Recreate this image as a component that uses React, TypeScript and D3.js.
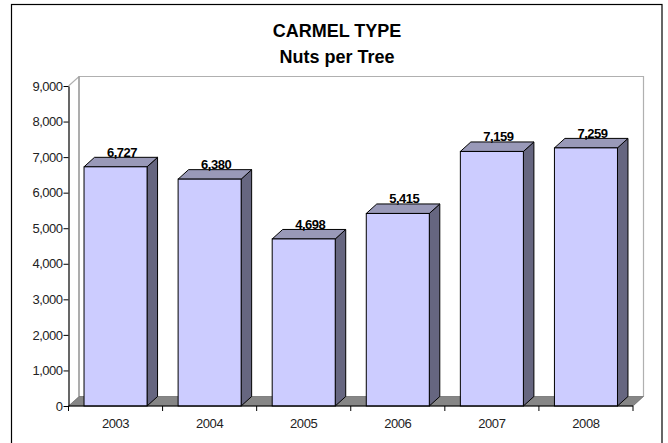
import { useEffect, useRef } from 'react';
import * as d3 from 'd3';

const years = ['2003', '2004', '2005', '2006', '2007', '2008'];
const nutsPerTree = [6727, 6380, 4698, 5415, 7159, 7259];
const yTicks = [0, 1000, 2000, 3000, 4000, 5000, 6000, 7000, 8000, 9000];
const titleLines = ['CARMEL TYPE', 'Nuts per Tree'];

const FONT = 'Liberation Sans, Arial, sans-serif';

export default function App() {
  const svgRef = useRef<SVGSVGElement>(null);

  useEffect(() => {
    const svg = d3.select(svgRef.current);
    if (!svg.node()) return;
    svg.selectAll('*').remove();

    const width = 668;
    const height = 443;
    const plot = { left: 68.5, right: 633, top: 86, bottom: 406 };
    const depthX = 10.5;
    const depthY = 9.5;

    const x = d3.scaleBand<string>().domain(years).range([plot.left, plot.right]).paddingInner(0.33).paddingOuter(0.165);
    const y = d3.scaleLinear().domain([0, 9000]).range([plot.bottom, plot.top]);

    // outer frame, runs off the bottom of the picture
    svg.append('rect')
      .attr('x', 11.5)
      .attr('y', 4.5)
      .attr('width', 650.5)
      .attr('height', height)
      .attr('fill', '#fff')
      .attr('stroke', '#000')
      .attr('stroke-width', 1.2);

    svg.append('g')
      .selectAll('text')
      .data(titleLines)
      .join('text')
      .attr('x', 337)
      .attr('y', (_, i) => 37 + i * 26)
      .attr('text-anchor', 'middle')
      .attr('font-family', FONT)
      .attr('font-size', 18)
      .attr('font-weight', 700)
      .attr('fill', '#000')
      .text((d) => d);

    // back wall
    svg.append('path')
      .attr('d', `M${plot.left},${plot.top}L${plot.left + depthX},${plot.top - depthY}H${plot.right + depthX}V${plot.bottom - depthY}`)
      .attr('fill', 'none')
      .attr('stroke', '#b0b0b0')
      .attr('stroke-width', 1.2);
    svg.append('line')
      .attr('x1', plot.left + depthX)
      .attr('x2', plot.left + depthX)
      .attr('y1', plot.top - depthY)
      .attr('y2', plot.bottom - depthY)
      .attr('stroke', '#999')
      .attr('stroke-width', 1.6);

    // floor
    svg.append('path')
      .attr('d', `M${plot.left},${plot.bottom}L${plot.left + depthX},${plot.bottom - depthY}H${plot.right + depthX}L${plot.right},${plot.bottom}Z`)
      .attr('fill', '#868686')
      .attr('stroke', '#555')
      .attr('stroke-width', 0.6);

    const bars = svg.append('g')
      .selectAll('g')
      .data(years.map((year, i) => ({ year, value: nutsPerTree[i] })))
      .join('g');

    // side face
    bars.append('path')
      .attr('d', (d) => {
        const r = x(d.year)! + x.bandwidth();
        return `M${r},${y(d.value)}l${depthX},${-depthY}V${plot.bottom - depthY}L${r},${plot.bottom}Z`;
      })
      .attr('fill', '#666680')
      .attr('stroke', '#000')
      .attr('stroke-width', 1);

    // top face
    bars.append('path')
      .attr('d', (d) => {
        const l = x(d.year)!;
        return `M${l},${y(d.value)}l${depthX},${-depthY}h${x.bandwidth()}l${-depthX},${depthY}Z`;
      })
      .attr('fill', '#9999b8')
      .attr('stroke', '#000')
      .attr('stroke-width', 1);

    // front face
    bars.append('rect')
      .attr('x', (d) => x(d.year)!)
      .attr('y', (d) => y(d.value))
      .attr('width', x.bandwidth())
      .attr('height', (d) => plot.bottom - y(d.value))
      .attr('fill', '#ccccff')
      .attr('stroke', '#000')
      .attr('stroke-width', 1);

    bars.append('text')
      .attr('x', (d) => x(d.year)! + x.bandwidth() / 2 + 6.5)
      .attr('y', (d) => y(d.value) - 10)
      .attr('text-anchor', 'middle')
      .attr('font-family', FONT)
      .attr('font-size', 13)
      .attr('font-weight', 700)
      .attr('letter-spacing', -0.5)
      .attr('fill', '#000')
      .text((d) => d3.format(',')(d.value));

    svg.append('g')
      .attr('transform', `translate(${plot.left},0)`)
      .call(d3.axisLeft(y).tickValues(yTicks).tickFormat((v) => d3.format(',')(v as number)).tickSize(5).tickSizeOuter(0))
      .call((sel) => sel.selectAll('line').attr('stroke', '#000'))
      .call((sel) => sel.select('.domain').attr('stroke', '#000').attr('stroke-width', 1.2))
      .call((sel) =>
        sel.selectAll('text').attr('font-family', FONT).attr('font-size', 13).attr('letter-spacing', -0.5).attr('fill', '#222').attr('x', -6),
      );

    // x axis ticks fall between the categories
    const xAxis = svg.append('g');
    xAxis.append('line')
      .attr('x1', plot.left)
      .attr('x2', plot.right)
      .attr('y1', plot.bottom)
      .attr('y2', plot.bottom)
      .attr('stroke', '#000')
      .attr('stroke-width', 1.2);
    xAxis.selectAll('line.tick')
      .data(d3.range(years.length + 1))
      .join('line')
      .attr('class', 'tick')
      .attr('x1', (i) => plot.left + i * x.step())
      .attr('x2', (i) => plot.left + i * x.step())
      .attr('y1', plot.bottom)
      .attr('y2', plot.bottom + 5)
      .attr('stroke', '#000');
    xAxis.selectAll('text')
      .data(years)
      .join('text')
      .attr('x', (d) => x(d)! + x.bandwidth() / 2)
      .attr('y', plot.bottom + 22)
      .attr('text-anchor', 'middle')
      .attr('font-family', FONT)
      .attr('font-size', 13)
      .attr('letter-spacing', -0.4)
      .attr('fill', '#222')
      .text((d) => d);

    svg.attr('viewBox', `0 0 ${width} ${height}`);
  }, []);

  return (
    <svg
      ref={svgRef}
      width={668}
      height={443}
      role="img"
      aria-label="Carmel type nuts per tree by year"
      style={{ position: 'fixed', left: 0, top: 0, display: 'block' }}
    />
  );
}
